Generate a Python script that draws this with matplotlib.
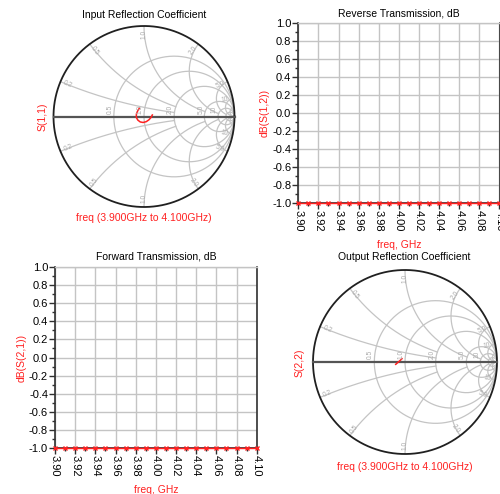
import numpy as np
import matplotlib
matplotlib.use("Agg")
import matplotlib.pyplot as plt

plt.rcParams['font.family'] = ['Liberation Sans', 'DejaVu Sans']
plt.rcParams['axes.unicode_minus'] = False

W, H = 500, 494

# ---- data -------------------------------------------------------------
freq_ghz = [3.90, 3.91, 3.92, 3.93, 3.94, 3.95, 3.96, 3.97, 3.98, 3.99, 4.00,
            4.01, 4.02, 4.03, 4.04, 4.05, 4.06, 4.07, 4.08, 4.09, 4.10]
db_s12 = [-1.0, -1.0, -1.0, -1.0, -1.0, -1.0, -1.0, -1.0, -1.0, -1.0, -1.0,
          -1.0, -1.0, -1.0, -1.0, -1.0, -1.0, -1.0, -1.0, -1.0, -1.0]
db_s21 = [-1.0, -1.0, -1.0, -1.0, -1.0, -1.0, -1.0, -1.0, -1.0, -1.0, -1.0,
          -1.0, -1.0, -1.0, -1.0, -1.0, -1.0, -1.0, -1.0, -1.0, -1.0]

# reflection coefficients sampled every 20 MHz (3.90 .. 4.10 GHz)
s11_re = [-0.052, -0.070, -0.084, -0.085, -0.068, -0.042, -0.010, 0.025, 0.055, 0.078, 0.092]
s11_im = [0.091, 0.062, 0.028, -0.010, -0.040, -0.060, -0.066, -0.057, -0.036, -0.010, 0.017]
s22_re = [-0.101, -0.094, -0.088, -0.081, -0.074, -0.067, -0.060, -0.053, -0.046, -0.039, -0.033]
s22_im = [-0.025, -0.020, -0.014, -0.008, -0.002, 0.004, 0.011, 0.017, 0.023, 0.030, 0.036]

x_ticks = [3.90, 3.92, 3.94, 3.96, 3.98, 4.00, 4.02, 4.04, 4.06, 4.08, 4.10]
x_ticklabels = ["3.90", "3.92", "3.94", "3.96", "3.98", "4.00",
                "4.02", "4.04", "4.06", "4.08", "4.10"]
y_ticks = [-1.0, -0.8, -0.6, -0.4, -0.2, 0.0, 0.2, 0.4, 0.6, 0.8, 1.0]

# Smith grid: resistance circles and reactance arcs, each with the
# value at which it stops (to keep the right-hand side readable)
smith_r = [0.5, 1.0, 2.0, 5.0, 10.0, 20.0]
smith_r_stop = [1e3, 1e3, 1e3, 1e3, 1e3, 1e3]
smith_x = [0.2, 0.5, 1.0, 2.0, 5.0, 10.0, 20.0]
smith_x_stop = [2.0, 2.0, 5.0, 10.0, 20.0, 1e3, 1e3]
r_labels = {0.5: "0.5", 1.0: "1.0", 2.0: "2.0", 5.0: "5.0", 10.0: "10"}
x_labels = {0.2: "0.2", 0.5: "0.5", 1.0: "1.0", 2.0: "2.0", 5.0: "5.0", 10.0: "10"}

RED = "#ff2020"
GRID = "#c4c4c4"


def box(l, t, r, b):
    return [l / W, 1 - b / H, (r - l) / W, (b - t) / H]


def ftext(x, y, s, **kw):
    fig.text(x / W, 1 - y / H, s, **kw)


def gamma(z):
    return (z - 1) / (z + 1)


def smith(ax, re, im):
    ax.set_xlim(-1, 1)
    ax.set_ylim(-1, 1)
    ax.axis("off")
    lab = dict(color="#ababab", fontsize=4.8, ha="center", va="center")
    # constant-resistance circles
    for r, stop in zip(smith_r, smith_r_stop):
        xs = np.concatenate([-np.logspace(np.log10(stop), -3, 400), [0],
                             np.logspace(-3, np.log10(stop), 400)])
        g = gamma(r + 1j * xs)
        ax.plot(g.real, g.imag, color=GRID, lw=0.9)
        if r in r_labels:
            g0 = gamma(r)
            ax.text(g0.real - 0.04, 0.08, r_labels[r], rotation=90, **lab)
    # constant-reactance arcs
    for x, stop in zip(smith_x, smith_x_stop):
        rs = np.concatenate([[0], np.logspace(-3, np.log10(stop), 600)])
        for s in (1, -1):
            g = gamma(rs + 1j * s * x)
            ax.plot(g.real, g.imag, color=GRID, lw=0.9)
            if x in x_labels:
                g0 = gamma(1j * s * x)
                ang = np.angle(g0)
                rot = np.degrees(ang) + (180 if np.cos(ang) < -1e-9 else 0)
                if abs(np.cos(ang)) < 1e-6:
                    rot = 90
                ax.text(0.91 * g0.real, 0.91 * g0.imag, x_labels[x],
                        rotation=rot, rotation_mode="anchor", **lab)
    t = np.linspace(0, 2 * np.pi, 400)
    ax.plot(np.cos(t), np.sin(t), color="#202020", lw=1.3, clip_on=False)
    ax.plot([-1, 1], [0, 0], color="#555555", lw=1.6, clip_on=False)
    ax.plot(re, im, color=RED, lw=1.1)


def rect(ax, y, ylabel):
    ax.set_xlim(3.90, 4.10)
    ax.set_ylim(-1.0, 1.0)
    ax.set_xticks(x_ticks)
    ax.set_xticklabels(x_ticklabels, rotation=270, fontsize=8)
    ax.set_xticks(freq_ghz, minor=True)
    ax.set_yticks(y_ticks)
    ax.set_yticklabels(["%.1f" % v for v in y_ticks], fontsize=8)
    ax.set_yticks(np.arange(-10, 11) / 10.0, minor=True)
    ax.tick_params(which="major", direction="out", length=4, width=1.0,
                   color="#303030", pad=1)
    ax.tick_params(which="minor", direction="out", length=2.5, width=1.0,
                   color="#303030")
    ax.grid(True, which="major", color=GRID, lw=1.0)
    for side in ("left", "bottom", "right"):
        ax.spines[side].set_color("#303030")
        ax.spines[side].set_linewidth(1.2)
    ax.spines["top"].set_color(GRID)
    ax.spines["top"].set_linewidth(1.0)
    ax.plot(freq_ghz, y, color=RED, lw=1.0, marker="x", ms=3.2, mew=1.0,
            clip_on=False, zorder=5)
    ax.set_ylabel(ylabel, color=RED, fontsize=7.5, labelpad=2)
    ax.set_xlabel("freq, GHz", color=RED, fontsize=7.5, labelpad=6)


fig = plt.figure(figsize=(W / 100, H / 100), dpi=100)

# input reflection
ax1 = fig.add_axes(box(53.5, 26, 234.5, 207))
smith(ax1, s11_re, s11_im)
ftext(144, 15, "Input Reflection Coefficient", ha="center", va="center", fontsize=7.5)
ftext(42.5, 116.5, "S(1,1)", ha="center", va="center", rotation=90, color=RED, fontsize=7.5)
ftext(144, 218, "freq (3.900GHz to 4.100GHz)", ha="center", va="center", color=RED, fontsize=7.5)

# reverse transmission
ax2 = fig.add_axes(box(298.3, 23.3, 499.5, 203.3))
rect(ax2, db_s12, "dB(S(1,2))")
ax2.set_title("Reverse Transmission, dB", fontsize=7.5, pad=5)

# forward transmission
ax3 = fig.add_axes(box(55, 266.7, 256.7, 448.3))
rect(ax3, db_s21, "dB(S(2,1))")
ax3.set_title("Forward Transmission, dB", fontsize=7.5, pad=5)

# output reflection
ax4 = fig.add_axes(box(313, 270, 497, 454))
smith(ax4, s22_re, s22_im)
ftext(404.5, 257.5, "Output Reflection Coefficient", ha="center", va="center", fontsize=7.5)
ftext(300, 363, "S(2,2)", ha="center", va="center", rotation=90, color=RED, fontsize=7.5)
ftext(404.5, 467, "freq (3.900GHz to 4.100GHz)", ha="center", va="center", color=RED, fontsize=7.5)

fig.savefig("out.png", dpi=100)
